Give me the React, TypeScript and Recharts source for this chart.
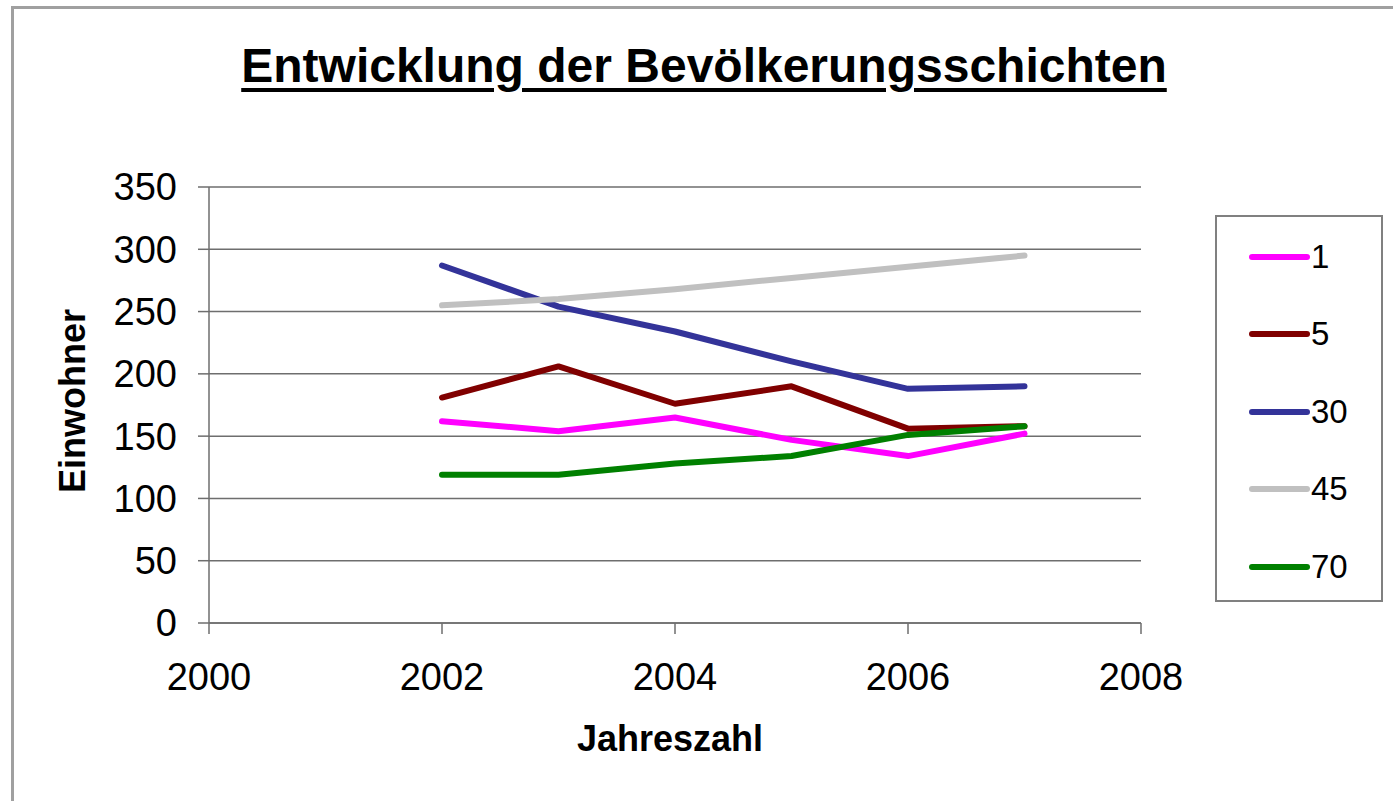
import React from 'react';
import { LineChart, Line, XAxis, YAxis, CartesianGrid } from 'recharts';

const years = [2002, 2003, 2004, 2005, 2006, 2007];
const s1 = [162, 154, 165, 147, 134, 152];
const s5 = [181, 206, 176, 190, 156, 158];
const s30 = [287, 254, 234, 210, 188, 190];
const s45 = [255, 260, 268, 277, 286, 295];
const s70 = [119, 119, 128, 134, 151, 158];

const xTicks = [2000, 2002, 2004, 2006, 2008];
const yTicks = [0, 50, 100, 150, 200, 250, 300, 350];

const seriesDefs = [
  { key: 's1', name: '1', color: '#FF00FF', values: s1 },
  { key: 's5', name: '5', color: '#800000', values: s5 },
  { key: 's30', name: '30', color: '#333399', values: s30 },
  { key: 's45', name: '45', color: '#C0C0C0', values: s45 },
  { key: 's70', name: '70', color: '#008000', values: s70 },
];

const data = years.map((y, i) => {
  const row: any = { year: y };
  seriesDefs.forEach((s) => {
    row[s.key] = s.values[i];
  });
  return row;
});

const FONT = '"Liberation Sans", Arial, sans-serif';

const LegendBox = () => (
  <div
    style={{
      position: 'absolute',
      left: 1215,
      top: 215,
      width: 168,
      height: 387,
      border: '2px solid #808080',
      boxSizing: 'border-box',
      background: '#fff',
      paddingTop: 1,
    }}
  >
    {seriesDefs.map((s) => (
      <div
        key={s.key}
        style={{ display: 'flex', alignItems: 'center', height: 77.5, fontFamily: FONT, fontSize: 33, color: '#000' }}
      >
        <svg width={96} height={12} style={{ flex: 'none' }}>
          <line x1={35} y1={6} x2={90} y2={6} stroke={s.color} strokeWidth={6} strokeLinecap="round" />
        </svg>
        <span style={{ marginLeft: -2 }}>{s.name}</span>
      </div>
    ))}
  </div>
);

const YLabel = () => {
  const cx = 72;
  const cy = 401;
  return (
    <text
      x={cx}
      y={cy}
      transform={`rotate(-90, ${cx}, ${cy})`}
      textAnchor="middle"
      dominantBaseline="central"
      fontFamily={FONT}
      fontWeight="bold"
      fontSize={36}
      fill="#000"
    >
      Einwohner
    </text>
  );
};

const XLabel = () => (
  <text x={670} y={751} textAnchor="middle" fontFamily={FONT} fontWeight="bold" fontSize={36} fill="#000">
    Jahreszahl
  </text>
);

export default function App() {
  return (
    <div style={{ position: 'absolute', left: 0, top: 0, width: 1393, height: 801, background: '#fff', overflow: 'hidden' }}>
      <div
        style={{
          position: 'absolute',
          left: 11,
          top: 6,
          width: 1400,
          height: 820,
          borderTop: '3px solid #a0a0a0',
          borderLeft: '3px solid #a0a0a0',
        }}
      />
      <div
        style={{
          position: 'absolute',
          left: 0,
          top: 42,
          width: 1408,
          textAlign: 'center',
          fontFamily: FONT,
          fontWeight: 'bold',
          fontSize: 48,
          lineHeight: '48px',
          color: '#000',
          textDecoration: 'underline',
          textDecorationThickness: '4px',
          textUnderlineOffset: '6px',
        }}
      >
        Entwicklung der Bevölkerungsschichten
      </div>
      <div style={{ position: 'absolute', left: 0, top: 0 }}>
        <LineChart width={1393} height={801} data={data} margin={{ top: 187, right: 252, left: 40, bottom: 38 }}>
          <CartesianGrid vertical={false} stroke="#6e6e6e" strokeWidth={1.5} />
          <XAxis
            dataKey="year"
            type="number"
            domain={[2000, 2008]}
            ticks={xTicks}
            interval={0}
            height={140}
            tickSize={11}
            tickMargin={29}
            stroke="#6e6e6e"
            strokeWidth={1.5}
            tick={{ fontFamily: FONT, fontSize: 38, fill: '#000' }}
            label={<XLabel />}
          />
          <YAxis
            type="number"
            domain={[0, 350]}
            ticks={yTicks}
            interval={0}
            width={169}
            tickSize={11}
            tickMargin={21}
            stroke="#6e6e6e"
            strokeWidth={1.5}
            tick={{ fontFamily: FONT, fontSize: 38, fill: '#000' }}
            label={<YLabel />}
          />
          {seriesDefs.map((s) => (
            <Line
              key={s.key}
              dataKey={s.key}
              name={s.name}
              stroke={s.color}
              strokeWidth={6}
              strokeLinecap="round"
              strokeLinejoin="round"
              dot={false}
              activeDot={false}
              isAnimationActive={false}
              type="linear"
            />
          ))}
        </LineChart>
      </div>
      <LegendBox />
    </div>
  );
}
